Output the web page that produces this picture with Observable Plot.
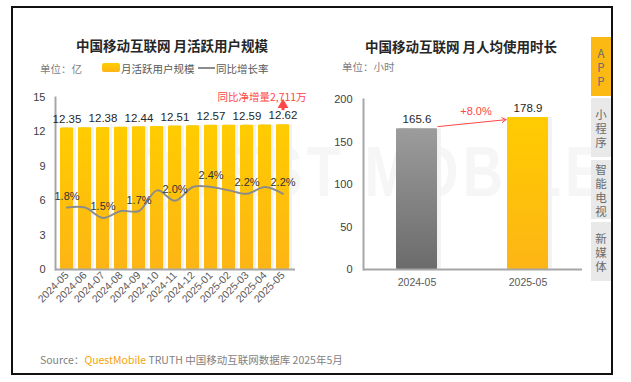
<!DOCTYPE html>
<html><head><meta charset="utf-8">
<script src="https://cdn.jsdelivr.net/npm/d3@7"></script>
<script src="https://cdn.jsdelivr.net/npm/@observablehq/plot@0.6"></script>
<style>
body{margin:0;background:#fff;font-family:"Liberation Sans","Noto Sans CJK SC",sans-serif;}
#root{position:relative;width:631px;height:382px;overflow:hidden;background:#fff;}
.abs{position:absolute;white-space:nowrap;}
.title{font-family:"Noto Sans CJK SC",sans-serif;font-size:13.5px;font-weight:bold;color:#262626;text-align:center;line-height:18px;}
.unit{font-family:"Noto Sans CJK SC",sans-serif;font-size:10.5px;color:#7f7f7f;line-height:14px;}
.tab{position:absolute;left:591px;width:20px;height:59px;display:flex;flex-direction:column;justify-content:center;align-items:center;font-family:"Noto Sans CJK SC",sans-serif;font-size:11.5px;line-height:14px;color:#6b6b6b;background:#e9e9e9;}
.plot{position:absolute;}
</style></head><body>
<div id="root">
  <div class="abs" id="wm" style="left:132px;top:132px;font-family:'Liberation Sans',sans-serif;font-size:70px;font-weight:bold;color:#f6f6f6;letter-spacing:5px;transform:scaleX(0.8);transform-origin:left top;">QUEST MOBILE</div>
</div>
<script>
// ---- data ----
const months = ["2024-05","2024-06","2024-07","2024-08","2024-09","2024-10","2024-11","2024-12","2025-01","2025-02","2025-03","2025-04","2025-05"];
const mau = [12.35,12.36,12.38,12.41,12.44,12.48,12.51,12.54,12.57,12.58,12.59,12.61,12.62];
const yoy = [1.8,1.8,1.5,1.7,1.7,2.3,2.0,2.4,2.4,2.3,2.2,2.4,2.2];
const labeledMonths = ["2024-05","2024-07","2024-09","2024-11","2025-01","2025-03","2025-05"];
const leftTicks = [0,3,6,9,12,15];
const yoyMax = 5; // secondary axis max (%)
const netAddText = "同比净增量2,711万";
const periods = ["2024-05","2025-05"];
const hours = [165.6,178.9];
const hourChangeText = "+8.0%";
const rightTicks = [0,50,100,150,200];
const tabs = ["APP","小程序","智能电视","新媒体"];

const RED = "#ff4545";
const FONT = "'Liberation Sans','Noto Sans CJK SC',sans-serif";
const root = document.getElementById("root");

function addDefs(svg){
  const defs = d3.select(svg).insert("defs", ":first-child");
  const g1 = defs.append("linearGradient").attr("id","gy").attr("x1",0).attr("y1",0).attr("x2",0).attr("y2",1);
  g1.append("stop").attr("offset","0%").attr("stop-color","#ffcc00");
  g1.append("stop").attr("offset","100%").attr("stop-color","#fdb515");
  const g2 = defs.append("linearGradient").attr("id","gg").attr("x1",0).attr("y1",0).attr("x2",0).attr("y2",1);
  g2.append("stop").attr("offset","0%").attr("stop-color","#9c9c9c");
  g2.append("stop").attr("offset","100%").attr("stop-color","#6b6b6b");
  const g3 = defs.append("linearGradient").attr("id","gs").attr("x1",0).attr("y1",0).attr("x2",1).attr("y2",0);
  g3.append("stop").attr("offset","0%").attr("stop-color","#cfcfcf");
  g3.append("stop").attr("offset","100%").attr("stop-color","#f4f4f4");
}

// ---- left chart ----
const ldata = months.map((m,i)=>({month:m, mau:mau[i], yoy:yoy[i]}));
const lab = ldata.filter(d=>labeledMonths.includes(d.month));
const ys = 15 / yoyMax;
const left = Plot.plot({
  width: 300, height: 239, marginLeft: 55, marginRight: 5, marginTop: 17, marginBottom: 50,
  style: {background:"transparent", fontFamily: FONT, overflow:"visible"},
  x: {type:"band", domain: months, paddingInner: 0.27, paddingOuter: 0.15, label: null},
  y: {domain:[0,15], label: null},
  marks: [
    Plot.barY(ldata, {x:"month", y:"mau", fill:"url(#gs)", dx: 3}),
    Plot.barY(ldata, {x:"month", y:"mau", fill:"url(#gy)", rx: 1}),
    Plot.ruleY([0], {stroke:"#a6a6a6", strokeWidth: 2}),
    Plot.frame({anchor:"left", stroke:"#a6a6a6", strokeWidth: 2}),
    Plot.axisY({ticks: leftTicks, tickSize: 0, tickPadding: 10, fontSize: 11, fill:"#404040", label: null}),
    Plot.axisX({tickSize: 0, tickPadding: 4, tickRotate: -45, fontSize: 10.5, fill:"#595959", label: null}),
    Plot.line(ldata, {x:"month", y: d=>d.yoy*ys, stroke:"#8c8c8c", strokeWidth: 2, curve:"catmull-rom"}),
    Plot.text(lab, {x:"month", y:"mau", text: d=>d.mau.toFixed(2), dy: -9, fontSize: 11.5, fill:"#262626"}),
    Plot.text(lab, {x:"month", y: d=>d.yoy*ys, text: d=>d.yoy.toFixed(1)+"%", dy: -11, fontSize: 11, fill:"#333"}),
    Plot.text([netAddText], {x: ()=>months[months.length-1], y: ()=>15, text: d=>d, dx: -21, fontSize: 10.5, fill: RED, fontFamily:"'Noto Sans CJK SC',sans-serif"}),
    Plot.ruleX([0], {x: ()=>months[months.length-1], y1: ()=>13.85, y2: ()=>14.3, stroke: RED, strokeWidth: 3}),
    Plot.dot([0], {x: ()=>months[months.length-1], y: ()=>14.35, symbol:"triangle", r: 4, fill: RED})
  ]
});
addDefs(left);
left.classList.add("plot");
left.style.left = "0px"; left.style.top = "80px";
root.appendChild(left);

// ---- right chart ----
const rdata = periods.map((p,i)=>({period:p, hours:hours[i]}));
const right = Plot.plot({
  width: 280, height: 219, marginLeft: 53, marginRight: 8, marginTop: 19, marginBottom: 30,
  style: {background:"transparent", fontFamily: FONT, overflow:"visible"},
  x: {type:"band", domain: periods, paddingInner: 0.63, paddingOuter: 0.3, label: null},
  y: {domain:[0,200], label: null},
  marks: [
    Plot.barY(rdata, {x:"period", y:"hours", fill:"url(#gs)", dx: 4}),
    Plot.barY(rdata.slice(0,1), {x:"period", y:"hours", fill:"url(#gg)", rx: 1}),
    Plot.barY(rdata.slice(1), {x:"period", y:"hours", fill:"url(#gy)", rx: 1}),
    Plot.ruleY([0], {stroke:"#a6a6a6", strokeWidth: 2}),
    Plot.frame({anchor:"left", stroke:"#a6a6a6", strokeWidth: 2}),
    Plot.axisY({ticks: rightTicks, tickSize: 0, tickPadding: 11, fontSize: 11, fill:"#404040", label: null}),
    Plot.axisX({tickSize: 0, tickPadding: 9, fontSize: 10.5, fill:"#595959", label: null}),
    Plot.text(rdata, {x:"period", y:"hours", text: d=>d.hours.toFixed(1), dy: -9, fontSize: 11.5, fill:"#262626"}),
    Plot.arrow([0], {x1: ()=>periods[0], y1: ()=>hours[0], x2: ()=>periods[1], y2: ()=>hours[1], stroke: RED, strokeWidth: 1, insetStart: 21, insetEnd: 22, headLength: 7}),
    Plot.text([hourChangeText], {x: ()=>periods[0], y: ()=>hours[1], text: d=>d, dx: 59, dy: -6, fontSize: 11, fill: RED})
  ]
});
addDefs(right);
right.classList.add("plot");
right.style.left = "310px"; right.style.top = "80px";
root.appendChild(right);

// ---- html text ----
function add(html, style, cls){
  const d = document.createElement("div");
  d.className = "abs " + (cls||"");
  d.innerHTML = html;
  Object.assign(d.style, style);
  root.appendChild(d);
  return d;
}
add("中国移动互联网 月活跃用户规模", {left:"72px", top:"36px", width:"200px"}, "title");
add("中国移动互联网 月人均使用时长", {left:"361px", top:"37px", width:"200px"}, "title");
add("单位：亿", {left:"40px", top:"62px"}, "unit");
add("单位：小时", {left:"342px", top:"60px"}, "unit");
add("", {left:"102px", top:"63px", width:"18px", height:"9px", borderRadius:"2px", background:"linear-gradient(#ffcc00,#fdb515)"});
add("月活跃用户规模", {left:"121px", top:"62px", color:"#595959"}, "unit");
add("", {left:"198px", top:"67px", width:"17px", height:"2px", background:"#8c8c8c"});
add("同比增长率", {left:"216px", top:"62px", color:"#595959"}, "unit");
add('Source：<span style="color:#f5a300">QuestMobile</span> TRUTH 中国移动互联网数据库 2025年5月', {left:"40px", top:"353px", fontFamily:"'Noto Sans CJK SC',sans-serif", fontSize:"10.5px", color:"#7f7f7f", lineHeight:"14px"});

// tabs
const tabTops = [37, 98, 160, 222];
tabs.forEach((t,i)=>{
  const d = document.createElement("div");
  d.className = "tab";
  d.style.top = tabTops[i] + "px";
  if (i===0){ d.style.background = "#fdb913"; }
  d.innerHTML = [...t].map(c=>`<span>${c}</span>`).join("");
  root.appendChild(d);
});
// border
add("", {left:"11px", top:"6px", width:"602px", height:"369px", border:"2px solid #111", boxSizing:"border-box"});
</script>
</body></html>
